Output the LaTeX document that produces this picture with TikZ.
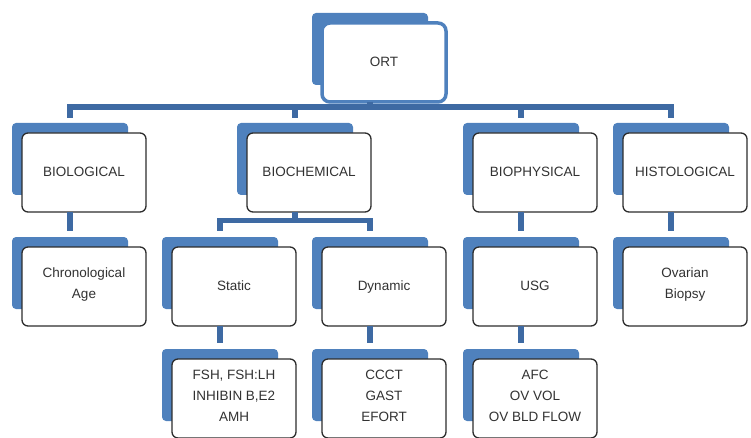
\documentclass[tikz,border=0pt]{standalone}
\usepackage{fontspec}
\setmainfont{Liberation Sans}
\definecolor{backblue}{RGB}{79,129,189}
\definecolor{linkblue}{RGB}{62,106,163}
\definecolor{cardline}{RGB}{45,45,45}
\definecolor{textgray}{RGB}{50,50,50}
\tikzset{
  back/.style={fill=backblue, rounded corners=4pt, minimum width=116pt, minimum height=72pt, anchor=north west, inner sep=0pt, outer sep=0pt},
  card/.style={fill=white, draw=cardline, line width=1.3pt, rounded corners=6pt, minimum width=124pt, minimum height=79pt, anchor=north west, inner sep=0pt, outer sep=0pt, align=center, text=textgray, font=\fontsize{13.5}{21}\selectfont, execute at begin node=\strut, execute at end node=\strut},
  topcard/.style={card, draw=backblue, line width=3.5pt, rounded corners=8pt},
  link/.style={draw=linkblue, line width=5.5pt},
  bus/.style={link, line cap=rect}
}
\newcommand\cardat[5][card]{%
  \node[back] (#2b) at (#3-10,#4-10) {};
  \node[#1] (#2) at (#3,#4) {#5};
}
\begin{document}
\begin{tikzpicture}[x=1pt,y=-1pt]
\useasboundingbox (0,0) rectangle (751,438);
% level 0
\cardat[topcard]{ort}{322}{23}{ORT}
% level 1
\cardat{bio}{22}{133}{BIOLOGICAL}
\cardat{chem}{247}{133}{BIOCHEMICAL}
\cardat{phys}{473}{133}{BIOPHYSICAL}
\cardat{hist}{623}{133}{HISTOLOGICAL}
% level 2
\cardat{chrono}{22}{247}{Chronological\\Age}
\cardat{static}{172}{247}{Static}
\cardat{dynamic}{322}{247}{Dynamic}
\cardat{usg}{473}{247}{USG}
\cardat{ovary}{623}{247}{Ovarian\\Biopsy}
% level 3
\cardat{hormones}{172}{359}{FSH, FSH:LH\\INHIBIN B,E2\\AMH}
\cardat{tests}{322}{359}{CCCT\\GAST\\EFORT}
\cardat{afc}{473}{359}{AFC\\OV VOL\\OV BLD FLOW}
% connectors level 0 -> 1
\coordinate (busone) at (370,107);
\draw[link] (ortb.south |- ort.south) -- (ortb.south |- busone);
\draw[bus] (busone -| biob.north) -- (busone -| histb.north);
\foreach \n in {biob,chemb,physb,histb}
  \draw[link] (busone -| \n.north) -- ([yshift=5pt]\n.north);
% connectors level 1 -> 2
\coordinate (bustwo) at (295,220.5);
\draw[link] (chemb.south |- chem.south) -- (chemb.south |- bustwo);
\draw[bus] (bustwo -| staticb.north) -- (bustwo -| dynamicb.north);
\foreach \n in {staticb,dynamicb}
  \draw[link] (bustwo -| \n.north) -- ([yshift=6.5pt]\n.north);
\draw[link] (biob.south |- bio.south) -- ([yshift=6pt]chronob.north);
\draw[link] (physb.south |- phys.south) -- ([yshift=6pt]usgb.north);
\draw[link] (histb.south |- hist.south) -- ([yshift=6pt]ovaryb.north);
% connectors level 2 -> 3
\draw[link] (staticb.south |- static.south) -- ([yshift=6pt]hormonesb.north);
\draw[link] (dynamicb.south |- dynamic.south) -- ([yshift=6pt]testsb.north);
\draw[link] (usgb.south |- usg.south) -- ([yshift=6pt]afcb.north);
\end{tikzpicture}
\end{document}
